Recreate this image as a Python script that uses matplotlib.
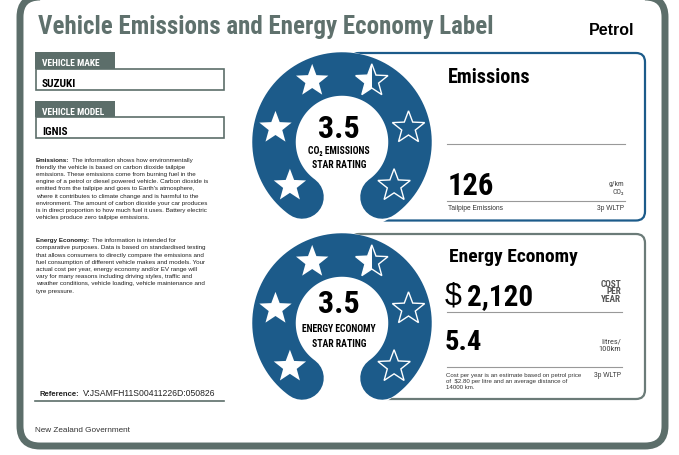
import numpy as np
import matplotlib
matplotlib.use("Agg")
import matplotlib.pyplot as plt
from matplotlib import font_manager
from matplotlib.patches import FancyBboxPatch, Rectangle, Polygon, Circle

# label content
title = "Vehicle Emissions and Energy Economy Label"
fuel_type = "Petrol"
make = "SUZUKI"
model = "IGNIS"
co2_stars = 3.5
energy_stars = 3.5
n_stars = 6
co2_gkm = 126
cost_per_year = 2120
litres_100km = 5.4
petrol_price = 2.80
distance_km = 14000
test_cycle = "3p WLTP"
reference = "V:JSAMFH11S00411226D:050826"

emissions_head = "Emissions:"
emissions_text = [
    "The information shows how environmentally",
    "friendly the vehicle is based on carbon dioxide tailpipe",
    "emissions. These emissions come from burning fuel in the",
    "engine of a petrol or diesel powered vehicle. Carbon dioxide is",
    "emitted from the tailpipe and goes to Earth's atmosphere,",
    "where it contributes to climate change and is harmful to the",
    "environment. The amount of carbon dioxide your car produces",
    "is in direct proportion to how much fuel it uses. Battery electric",
    "vehicles produce zero tailpipe emissions.",
]
energy_head = "Energy Economy:"
energy_text = [
    "The information is intended for",
    "comparative purposes. Data is based on standardised testing",
    "that allows consumers to directly compare the emissions and",
    "fuel consumption of different vehicle makes and models. Your",
    "actual cost per year, energy economy and/or EV range will",
    "vary for many reasons including driving styles, traffic and",
    "weather conditions, vehicle loading, vehicle maintenance and",
    "tyre pressure.",
]
cost_note = [
    "Cost per year is an estimate based on petrol price",
    "of  $%.2f per litre and an average distance of" % petrol_price,
    "%d km." % distance_km,
]

BLUE = "#1c5b8a"
FRAME = "#5c6e6a"

# pick a condensed family if there is one
names = {f.name for f in font_manager.fontManager.ttflist}
COND = dict(family=["DejaVu Sans"])
for cand in ["Roboto Condensed", "Liberation Sans Narrow", "Open Sans Condensed"]:
    if cand in names:
        COND = dict(family=[cand, "DejaVu Sans"])
        break
BODY = dict(family=["Liberation Sans", "DejaVu Sans"])

fig = plt.figure(figsize=(6.79, 4.56), dpi=100)
ax = fig.add_axes([0, 0, 1, 1])
ax.set_xlim(0, 679)
ax.set_ylim(456, 0)
ax.axis("off")


def txt(x, y, s, size, weight="normal", font=None, **kw):
    f = COND if font is None else font
    return ax.text(x, y, s, fontsize=size, fontweight=weight, va="baseline", zorder=6, **f, **kw)


def star_xy(cx, cy, r):
    a = -np.pi / 2 + np.arange(10) * np.pi / 5
    rr = np.where(np.arange(10) % 2 == 0, r, r * 0.42)
    return np.column_stack([cx + rr * np.cos(a), cy + rr * np.sin(a)])


def horseshoe(cx, cy, rating, lines, num_y, line_y):
    ax.add_patch(Circle((cx, cy), 90, fc="white", ec="none", zorder=2))
    th = np.radians(np.linspace(-54, 234, 300))
    ax.plot(cx + 68 * np.cos(th), cy - 68 * np.sin(th), color=BLUE, lw=31.3,
            solid_capstyle="round", zorder=3)
    for i in range(n_stars):
        ang = np.radians(220 - i * 52)
        sx, sy = cx + 68 * np.cos(ang), cy - 68 * np.sin(ang)
        fill = min(max(rating - i, 0), 1)
        pts = star_xy(sx, sy, 17)
        if fill >= 1:
            ax.add_patch(Polygon(pts, fc="white", ec="none", zorder=4))
            continue
        ax.add_patch(Polygon(pts, fc=BLUE, ec="white", lw=1.0, zorder=4))
        if fill > 0:
            p = Polygon(pts, fc="white", ec="none", zorder=5)
            ax.add_patch(p)
            clip = Rectangle((sx - 17, sy - 17), 34 * fill, 34, transform=ax.transData)
            p.set_clip_path(clip)
    txt(cx - 3, num_y, "%.1f" % rating, 23, "bold", ha="center")
    for k, s in enumerate(lines):
        txt(cx - 3, line_y + 14.3 * k, s, 7, "bold", ha="center")


# outer frame
ax.add_patch(FancyBboxPatch((20, -2), 645, 449, boxstyle="round,pad=0,rounding_size=20",
                            fc="none", ec=FRAME, lw=5, zorder=1))

txt(38, 34.3, title, 18, 900, color="#5f716d")
txt(634, 35, fuel_type, 11.5, "bold", font=BODY, ha="right")

# make / model boxes
for ytab, label, value in [(53, "VEHICLE MAKE", make), (101.5, "VEHICLE MODEL", model)]:
    ax.add_patch(Rectangle((35, ytab), 80, 16.5, fc=FRAME, ec="none", zorder=1))
    ax.add_patch(Rectangle((36, ytab + 16.5), 188, 21, fc="white", ec=FRAME, lw=1.2, zorder=1))
    txt(42, ytab + 13.5, label, 6.8, "bold", color="white")
    txt(42, ytab + 33.8, value, 8.2, "bold")

# explanation paragraphs
renderer = fig.canvas.get_renderer()
for y0, head, lines in [(161.7, emissions_head, emissions_text), (242.3, energy_head, energy_text)]:
    h = txt(36, y0, head, 4.5, "bold", font=BODY, color="#222")
    bb = h.get_window_extent(renderer).transformed(ax.transData.inverted())
    txt(bb.x1 + 2.5, y0, lines[0], 4.5, font=BODY, color="#222")
    for k, s in enumerate(lines[1:], 1):
        txt(36, y0 + 7.2 * k, s, 4.5, font=BODY, color="#222")

h = txt(39, 396.5, "Reference:", 5.6, "bold", font=BODY, color="#222")
bb = h.get_window_extent(renderer).transformed(ax.transData.inverted())
txt(bb.x1 + 4, 396.5, reference, 6.2, font=BODY, color="#222")
ax.plot([35, 224], [401.7, 401.7], color=FRAME, lw=1.2, zorder=1)
txt(35, 432, "New Zealand Government", 5.9, font=BODY, color="#333")

# emissions panel
ax.add_patch(FancyBboxPatch((350, 54), 295, 167.5, boxstyle="round,pad=0,rounding_size=9",
                            fc="white", ec=BLUE, lw=1.6, zorder=1))
txt(447.5, 83.3, "Emissions", 14.5, "bold")
ax.plot([447, 625], [145, 145], color="#999999", lw=0.8, zorder=1)
txt(447.5, 195, "%d" % co2_gkm, 22, "bold")
txt(624, 186.3, "g/km", 5.5, color="#444", ha="right")
txt(624, 194, "CO\u2082", 5.5, color="#444", ha="right")
ax.plot([447, 625], [201.7, 201.7], color="#999999", lw=0.8, zorder=1)
txt(448.5, 210, "Tailpipe Emissions", 4.8, font=BODY, color="#333")
txt(624, 210, test_cycle, 4.8, font=BODY, color="#333", ha="right")

# energy economy panel
ax.add_patch(FancyBboxPatch((350, 235), 295, 165, boxstyle="round,pad=0,rounding_size=9",
                            fc="white", ec="#6b7b78", lw=1.6, zorder=1))
txt(449, 262.3, "Energy Economy", 14, "bold")
txt(445, 305, "$", 22, font=BODY)
txt(467, 305, "{:,}".format(cost_per_year), 21, "bold")
for k, s in enumerate(["COST", "PER", "YEAR"]):
    txt(621, 286.7 + 7.8 * k, s, 6.7, "bold", color="#555", ha="right")
ax.plot([447, 622], [313.3, 313.3], color="#999999", lw=0.8, zorder=1)
txt(445, 350, "%.1f" % litres_100km, 20.5, "bold")
txt(621, 343.3, "litres/", 6, color="#444", ha="right")
txt(621, 351, "100km", 6, color="#444", ha="right")
ax.plot([447, 622], [367.7, 367.7], color="#999999", lw=0.8, zorder=1)
for k, s in enumerate(cost_note):
    txt(446.5, 376.7 + 6.2 * k, s, 4.4, font=BODY, color="#333")
txt(621, 376.7, test_cycle, 4.8, font=BODY, color="#333", ha="right")

# star rating horseshoes
horseshoe(342, 143, co2_stars, ["CO\u2082 EMISSIONS", "STAR RATING"], 138.3, 154)
horseshoe(342, 324, energy_stars, ["ENERGY ECONOMY", "STAR RATING"], 313.3, 332.3)

fig.savefig("out.png", dpi=100)
